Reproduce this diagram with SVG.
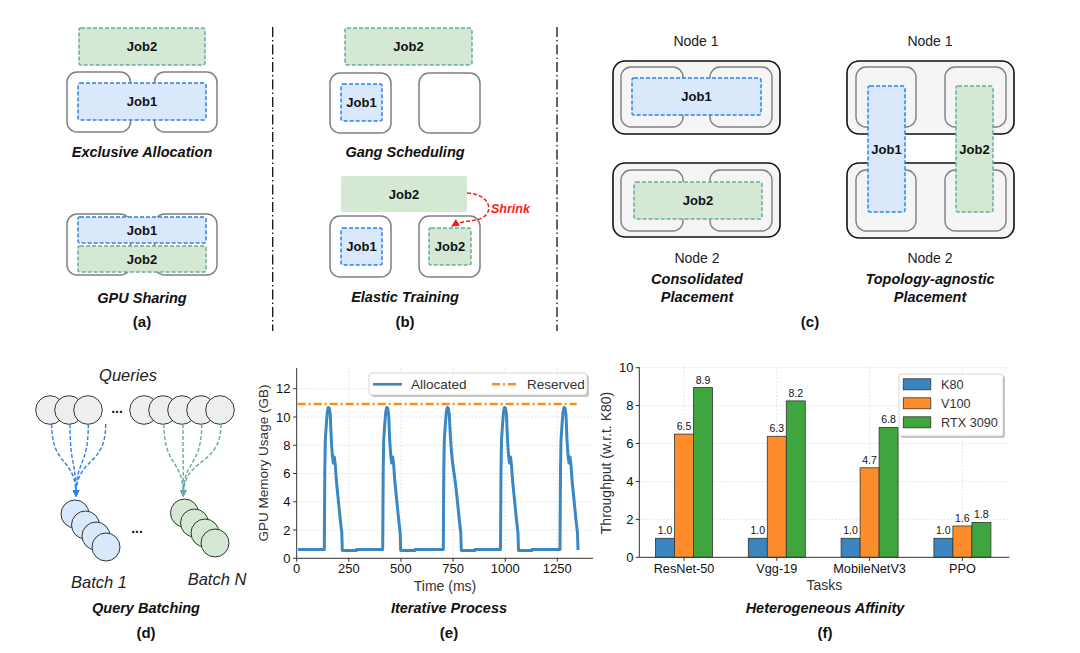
<svg xmlns="http://www.w3.org/2000/svg" width="1080" height="653" viewBox="0 0 1080 653">
<style>
text{font-family:"Liberation Sans",Arial,sans-serif;fill:#111}
.job{font-size:13px;font-weight:bold;text-anchor:middle}
.ttl{font-size:14.5px;font-weight:bold;font-style:italic;text-anchor:middle}
.cap{font-size:15px;font-weight:bold;text-anchor:middle}
.node{font-size:14px;text-anchor:middle;fill:#222}
.j1{fill:#dae8fc;stroke:#2f80ed;stroke-width:1.5;stroke-dasharray:4 2}
.j2{fill:#d5e8d4;stroke:#67ab9f;stroke-width:1.5;stroke-dasharray:4 2}
.gpu{fill:#fff;stroke:#808080;stroke-width:1.5}
.gpuc{fill:#f5f5f5;stroke:#808080;stroke-width:1.4}
.srv{fill:#f5f5f5;stroke:#111;stroke-width:1.6}
.sep{stroke:#111;stroke-width:1.3;stroke-dasharray:10 3 1.5 3;fill:none}
.q{fill:#eeeeee;stroke:#333;stroke-width:1}
.bb{fill:#dae8fc;stroke:#333;stroke-width:1}
.bg{fill:#d5e8d4;stroke:#333;stroke-width:1}
.it{font-size:16.5px;font-style:italic;text-anchor:middle;fill:#222}
.grid{stroke:#d8d8d8;stroke-width:0.8;stroke-dasharray:1.5 2;fill:none}
.ax{stroke:#333;stroke-width:1;fill:none}
.tk{font-size:13px;fill:#333}
.lab{font-size:14px;fill:#333;text-anchor:middle}
.val{font-size:10.5px;fill:#444;text-anchor:middle}
.bar{stroke:#333;stroke-width:0.8}
</style>
<defs>
<marker id="ab" viewBox="0 0 8 8" refX="7" refY="4" markerWidth="7" markerHeight="7" markerUnits="userSpaceOnUse" orient="auto"><path d="M0,0 L8,4 L0,8 z" fill="#2f80ed"/></marker>
<marker id="ag" viewBox="0 0 8 8" refX="7" refY="4" markerWidth="7" markerHeight="7" markerUnits="userSpaceOnUse" orient="auto"><path d="M0,0 L8,4 L0,8 z" fill="#67ab9f"/></marker>
<marker id="ar" viewBox="0 0 8 8" refX="7" refY="4" markerWidth="8" markerHeight="8" markerUnits="userSpaceOnUse" orient="auto"><path d="M0,0 L8,4 L0,8 z" fill="#ff1a1a"/></marker>
</defs>

<rect width="1080" height="653" fill="#fff"/>

<!-- separators -->
<line class="sep" x1="272.7" y1="27" x2="272.7" y2="331"/>
<line class="sep" x1="557" y1="27" x2="557" y2="331"/>

<!-- (a) -->
<g id="a-exclusive">
<rect class="j2" x="79" y="28" width="126" height="37" rx="2"/>
<text class="job" x="142" y="51">Job2</text>
<rect class="gpu" x="67" y="72" width="63.5" height="60" rx="10"/>
<rect class="gpu" x="154.5" y="72" width="62.5" height="60" rx="10"/>
<rect class="j1" x="78" y="83" width="128" height="37" rx="2"/>
<text class="job" x="142" y="106">Job1</text>
<text class="ttl" x="142" y="157">Exclusive Allocation</text>
</g>
<g id="a-sharing">
<rect class="gpu" x="67" y="214" width="63.5" height="61" rx="10"/>
<rect class="gpu" x="154.5" y="214" width="62.5" height="61" rx="10"/>
<rect class="j1" x="78" y="217" width="128" height="26" rx="2"/>
<text class="job" x="142" y="235">Job1</text>
<rect class="j2" x="78" y="246" width="128" height="26" rx="2"/>
<text class="job" x="142" y="264">Job2</text>
<text class="ttl" x="142" y="303">GPU Sharing</text>
<text class="cap" x="142" y="327">(a)</text>
</g>

<!-- (b) -->
<g id="b-gang">
<rect class="j2" x="345" y="28" width="127" height="37" rx="2"/>
<text class="job" x="408.5" y="51">Job2</text>
<rect class="gpu" x="330" y="73" width="61" height="60" rx="10"/>
<rect class="gpu" x="419" y="73" width="61" height="60" rx="10"/>
<rect class="j1" x="341" y="84" width="41" height="37" rx="2"/>
<text class="job" x="361.5" y="107">Job1</text>
<text class="ttl" x="405" y="157">Gang Scheduling</text>
</g>
<g id="b-elastic">
<rect x="341" y="176" width="126" height="36" rx="2" fill="#d5e8d4"/>
<text class="job" x="404" y="199">Job2</text>
<rect class="gpu" x="330" y="216" width="61" height="61" rx="10"/>
<rect class="gpu" x="419" y="216" width="61" height="61" rx="10"/>
<rect class="j1" x="341" y="228" width="41" height="37" rx="2"/>
<text class="job" x="361.5" y="251">Job1</text>
<rect class="j2" x="429" y="228" width="42" height="37" rx="2"/>
<text class="job" x="450" y="251">Job2</text>
<text x="491" y="213" style="font-size:12.5px;font-weight:bold;font-style:italic;fill:#ff1a1a">Shrink</text>
<text class="ttl" x="405" y="302">Elastic Training</text>
<text class="cap" x="405" y="327">(b)</text>
</g>

<!-- (c) -->
<g id="c-consolidated">
<text class="node" x="696" y="46">Node 1</text>
<rect class="srv" x="613" y="61" width="167" height="73" rx="12"/>
<rect class="gpuc" x="621" y="67" width="62" height="60" rx="10"/>
<rect class="gpuc" x="710" y="67" width="62" height="60" rx="10"/>
<rect class="j1" x="632" y="78" width="129" height="37" rx="2"/>
<text class="job" x="696.5" y="101">Job1</text>
<rect class="srv" x="613" y="163" width="167" height="74" rx="12"/>
<rect class="gpuc" x="621" y="170" width="62" height="61" rx="10"/>
<rect class="gpuc" x="710" y="170" width="62" height="61" rx="10"/>
<rect class="j2" x="634" y="182" width="128" height="37" rx="2"/>
<text class="job" x="698" y="205">Job2</text>
<text class="node" x="697" y="263">Node 2</text>
<text class="ttl" x="697" y="284">Consolidated</text>
<text class="ttl" x="697" y="302">Placement</text>
</g>
<g id="c-agnostic">
<text class="node" x="930" y="46">Node 1</text>
<rect class="srv" x="847" y="61" width="167" height="73" rx="12"/>
<rect class="gpuc" x="856" y="67" width="60" height="60" rx="10"/>
<rect class="gpuc" x="945" y="67" width="61" height="60" rx="10"/>
<rect class="srv" x="847" y="163" width="167" height="75" rx="12"/>
<rect class="gpuc" x="856" y="170" width="60" height="61" rx="10"/>
<rect class="gpuc" x="945" y="170" width="61" height="61" rx="10"/>
<rect class="j1" x="868" y="86" width="37" height="126" rx="2"/>
<text class="job" x="886.5" y="154">Job1</text>
<rect class="j2" x="956" y="86" width="37" height="126" rx="2"/>
<text class="job" x="974.5" y="154">Job2</text>
<text class="node" x="930" y="263">Node 2</text>
<text class="ttl" x="930" y="284">Topology-agnostic</text>
<text class="ttl" x="930" y="302">Placement</text>
<text class="cap" x="810" y="327">(c)</text>
</g>

<!-- (d) -->
<g id="d-queries">
<text class="it" x="128" y="381">Queries</text>
<circle class="q" cx="50" cy="410" r="14.3"/>
<circle class="q" cx="69" cy="410" r="14.3"/>
<circle class="q" cx="88" cy="410" r="14.3"/>
<text x="117" y="413" style="font-size:14px;font-weight:bold;text-anchor:middle">...</text>
<circle class="q" cx="144" cy="410" r="14.3"/>
<circle class="q" cx="163" cy="410" r="14.3"/>
<circle class="q" cx="182" cy="410" r="14.3"/>
<circle class="q" cx="201" cy="410" r="14.3"/>
<circle class="q" cx="220" cy="410" r="14.3"/>
</g>
<g id="d-batches">
<circle class="bb" cx="75" cy="514" r="14"/>
<circle class="bb" cx="85.5" cy="525" r="14"/>
<circle class="bb" cx="96" cy="536" r="14"/>
<circle class="bb" cx="106" cy="547" r="14"/>
<text x="137" y="533" style="font-size:14px;font-weight:bold;text-anchor:middle">...</text>
<circle class="bg" cx="184.5" cy="513" r="14"/>
<circle class="bg" cx="194.5" cy="523" r="14"/>
<circle class="bg" cx="205" cy="533" r="14"/>
<circle class="bg" cx="215" cy="543" r="14"/>
<text class="it" x="99" y="588">Batch 1</text>
<text class="it" x="217" y="585">Batch N</text>
<text class="ttl" x="146" y="613">Query Batching</text>
<text class="cap" x="146" y="638">(d)</text>
</g>

<!-- connectors -->
<g id="connectors" fill="none">
<path d="M467,193 C489,194 495,211 482,218 C474,222 462,220 452,226" stroke="#ff1a1a" stroke-width="1.5" stroke-dasharray="4 2" marker-end="url(#ar)"/>
<g stroke="#2f80ed" stroke-width="1.4" stroke-dasharray="4 2">
<path d="M51.7,424 C51.7,468 76,456 76,496" marker-end="url(#ab)"/>
<path d="M70,424 C70,468 76,458 76,496" marker-end="url(#ab)"/>
<path d="M88.3,424 C88.3,468 76,458 76,496" marker-end="url(#ab)"/>
<path d="M105.7,424 C105.7,468 76,456 76,496" marker-end="url(#ab)"/>
</g>
<g stroke="#67ab9f" stroke-width="1.4" stroke-dasharray="4 2">
<path d="M164,424 C164,468 183.3,458 183.3,496" marker-end="url(#ag)"/>
<path d="M183,424 C183,468 183.3,458 183.3,496" marker-end="url(#ag)"/>
<path d="M201.7,424 C201.7,468 183.3,458 183.3,496" marker-end="url(#ag)"/>
<path d="M221,424 C221,468 183.3,456 183.3,496" marker-end="url(#ag)"/>
</g>
</g>

<!-- (e) chart -->
<g id="e-chart">
<g class="grid">
<line x1="348.8" y1="368" x2="348.8" y2="558.3"/>
<line x1="400.9" y1="368" x2="400.9" y2="558.3"/>
<line x1="453.1" y1="368" x2="453.1" y2="558.3"/>
<line x1="505.2" y1="368" x2="505.2" y2="558.3"/>
<line x1="557.3" y1="368" x2="557.3" y2="558.3"/>
<line x1="296.7" y1="530" x2="593" y2="530"/>
<line x1="296.7" y1="501.8" x2="593" y2="501.8"/>
<line x1="296.7" y1="473.5" x2="593" y2="473.5"/>
<line x1="296.7" y1="445.3" x2="593" y2="445.3"/>
<line x1="296.7" y1="417" x2="593" y2="417"/>
<line x1="296.7" y1="388.7" x2="593" y2="388.7"/>
</g>
<line x1="297.7" y1="404" x2="576.7" y2="404" stroke="#ff8c1a" stroke-width="2.4" stroke-dasharray="8 3 2 3"/>
<path fill="none" stroke="#3a87c2" stroke-width="3" stroke-linejoin="round" d="M298,549.5 H324.3 L324.8,470 L325.3,440 L326.3,425 L327.3,412 L328.3,407.5 L329.3,408 L330.3,415 L331.3,440 L332.3,455 L333.3,463 L334.3,457 L335.3,465 L336.3,480 L338.3,500 L340.3,520 L341.8,533 L342.3,550.5 H356.5 V549.5 H382.7 L383.2,470 L383.7,440 L384.7,425 L385.7,412 L386.7,407.5 L387.7,408 L388.7,415 L389.7,440 L390.7,455 L391.7,463 L392.7,457 L393.7,465 L394.7,480 L396.7,500 L398.7,520 L400.2,533 L400.7,550.5 H415 V549.5 H443.3 L443.8,470 L444.3,440 L445.3,425 L446.3,412 L447.3,407.5 L448.3,408 L449.3,415 L450.3,435 L451.3,450 L452.3,460 L453.3,468 L454.3,475 L455.3,482 L457.3,500 L459.3,520 L460.8,533 L461.3,550.5 H475 V549.5 H500.5 L501,470 L501.5,440 L502.5,425 L503.5,412 L504.5,407.5 L505.5,408 L506.5,415 L507.5,440 L508.5,455 L509.5,463 L510.5,457 L511.5,465 L512.5,480 L514.5,500 L516.5,520 L518,533 L518.5,550.5 H532 V549.5 H560 L560.5,470 L561,440 L562,425 L563,412 L564,407.5 L565,408 L566,415 L567,440 L568,455 L569,463 L570,457 L571,465 L572,480 L574,500 L576,520 L577.5,533 L578,550"/>
<path class="ax" d="M296.7,368 V558.3 H593"/>
<path class="ax" d="M293.2,558.3 H296.7 M293.2,530 H296.7 M293.2,501.8 H296.7 M293.2,473.5 H296.7 M293.2,445.3 H296.7 M293.2,417 H296.7 M293.2,388.7 H296.7 M296.7,558.3 V561.8 M348.8,558.3 V561.8 M400.9,558.3 V561.8 M453.1,558.3 V561.8 M505.2,558.3 V561.8 M557.3,558.3 V561.8"/>
<g class="tk" text-anchor="end">
<text x="290.5" y="562.8">0</text>
<text x="290.5" y="534.5">2</text>
<text x="290.5" y="506.3">4</text>
<text x="290.5" y="478">6</text>
<text x="290.5" y="449.8">8</text>
<text x="290.5" y="421.5">10</text>
<text x="290.5" y="393.2">12</text>
</g>
<g class="tk" text-anchor="middle">
<text x="296.7" y="573">0</text>
<text x="348.8" y="573">250</text>
<text x="400.9" y="573">500</text>
<text x="453.1" y="573">750</text>
<text x="505.2" y="573">1000</text>
<text x="557.3" y="573">1250</text>
</g>
<text class="lab" x="445" y="591" style="font-size:14px">Time (ms)</text>
<text class="lab" transform="translate(268,463) rotate(-90)" style="font-size:13.5px">GPU Memory Usage (GB)</text>
<rect x="371" y="375" width="218" height="22" rx="3" fill="#c4c4c4"/>
<rect x="369" y="373" width="218" height="22" rx="3" fill="#fff" stroke="#cccccc" stroke-width="0.8"/>
<line x1="373" y1="384.3" x2="402" y2="384.3" stroke="#3a87c2" stroke-width="2.6"/>
<text class="tk" x="411" y="389" style="font-size:13.5px">Allocated</text>
<line x1="492" y1="384.3" x2="518" y2="384.3" stroke="#ff8c1a" stroke-width="2.4" stroke-dasharray="8 3 2 3"/>
<text class="tk" x="527" y="389" style="font-size:13.5px">Reserved</text>
<text class="ttl" x="449" y="613">Iterative Process</text>
<text class="cap" x="449" y="638">(e)</text>
</g>

<!-- (f) chart -->
<g id="f-chart">
<g class="grid">
<line x1="684" y1="367.3" x2="684" y2="557.3"/>
<line x1="776.8" y1="367.3" x2="776.8" y2="557.3"/>
<line x1="869.6" y1="367.3" x2="869.6" y2="557.3"/>
<line x1="962.4" y1="367.3" x2="962.4" y2="557.3"/>
<line x1="639.3" y1="519.4" x2="1009.3" y2="519.4"/>
<line x1="639.3" y1="481.5" x2="1009.3" y2="481.5"/>
<line x1="639.3" y1="443.5" x2="1009.3" y2="443.5"/>
<line x1="639.3" y1="405.6" x2="1009.3" y2="405.6"/>
<line x1="639.3" y1="367.7" x2="1009.3" y2="367.7"/>
</g>
<g class="bar">
<rect x="655.5" y="538.3" width="19" height="19" fill="#3a84bf"/>
<rect x="674.5" y="434.1" width="19" height="123.2" fill="#fd8d2b"/>
<rect x="693.5" y="387.6" width="19" height="169.7" fill="#3fa53f"/>
<rect x="748.3" y="538.3" width="19" height="19" fill="#3a84bf"/>
<rect x="767.3" y="436.3" width="19" height="121" fill="#fd8d2b"/>
<rect x="786.3" y="400.9" width="19" height="156.4" fill="#3fa53f"/>
<rect x="841.1" y="538.3" width="19" height="19" fill="#3a84bf"/>
<rect x="860.1" y="467.8" width="19" height="89.5" fill="#fd8d2b"/>
<rect x="879.1" y="427.4" width="19" height="129.9" fill="#3fa53f"/>
<rect x="933.9" y="538.3" width="19" height="19" fill="#3a84bf"/>
<rect x="952.9" y="526" width="19" height="31.3" fill="#fd8d2b"/>
<rect x="971.9" y="522.4" width="19" height="34.9" fill="#3fa53f"/>
</g>
<g class="val">
<text x="665" y="534.3">1.0</text>
<text x="684" y="430">6.5</text>
<text x="703" y="383.6">8.9</text>
<text x="757.8" y="534.3">1.0</text>
<text x="776.8" y="432.3">6.3</text>
<text x="795.8" y="396.9">8.2</text>
<text x="850.6" y="534.3">1.0</text>
<text x="869.6" y="463.8">4.7</text>
<text x="888.6" y="423.4">6.8</text>
<text x="943.4" y="534.3">1.0</text>
<text x="962.4" y="522">1.6</text>
<text x="981.4" y="518.4">1.8</text>
</g>
<path class="ax" d="M639.3,367.3 V557.3 H1009.3"/>
<path class="ax" d="M635.8,557.3 H639.3 M635.8,519.4 H639.3 M635.8,481.5 H639.3 M635.8,443.5 H639.3 M635.8,405.6 H639.3 M635.8,367.7 H639.3 M684,557.3 V560.8 M776.8,557.3 V560.8 M869.6,557.3 V560.8 M962.4,557.3 V560.8"/>
<g class="tk" text-anchor="end">
<text x="633.5" y="561.8">0</text>
<text x="633.5" y="523.9">2</text>
<text x="633.5" y="486">4</text>
<text x="633.5" y="448">6</text>
<text x="633.5" y="410.1">8</text>
<text x="633.5" y="372.2">10</text>
</g>
<g class="tk" text-anchor="middle" style="font-size:12.7px">
<text x="684" y="573.3">ResNet-50</text>
<text x="776.8" y="573.3">Vgg-19</text>
<text x="869.6" y="573.3">MobileNetV3</text>
<text x="962.4" y="573.3">PPO</text>
</g>
<text class="lab" x="824.3" y="590">Tasks</text>
<text class="lab" transform="translate(611,463) rotate(-90)">Throughput (w.r.t. K80)</text>
<rect x="901" y="376" width="104" height="62" rx="2" fill="#c4c4c4"/>
<rect x="899" y="374" width="104" height="62" rx="2" fill="#fff" stroke="#cccccc" stroke-width="0.8"/>
<rect class="bar" x="903.3" y="378.8" width="27.5" height="11" fill="#3a84bf"/>
<rect class="bar" x="903.3" y="397.8" width="27.5" height="11" fill="#fd8d2b"/>
<rect class="bar" x="903.3" y="416.8" width="27.5" height="11" fill="#3fa53f"/>
<text class="tk" x="941" y="388.8" style="font-size:12.7px">K80</text>
<text class="tk" x="941" y="407.8" style="font-size:12.7px">V100</text>
<text class="tk" x="941" y="426.8" style="font-size:12.7px">RTX 3090</text>
<text class="ttl" x="825" y="613">Heterogeneous Affinity</text>
<text class="cap" x="825" y="638">(f)</text>
</g>
</svg>
